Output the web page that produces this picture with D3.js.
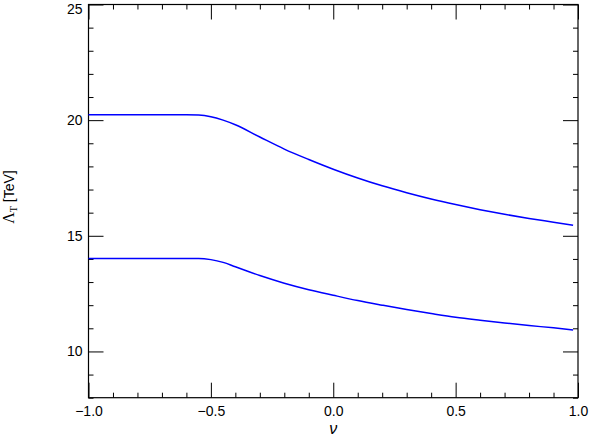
<!DOCTYPE html>
<html>
<head>
<meta charset="utf-8">
<script src="https://cdn.jsdelivr.net/npm/d3@7"></script>
<style>
  body { margin: 0; background: #fff; }
  text { font-family: "Liberation Sans", Helvetica, Arial, sans-serif; }
</style>
</head>
<body>
<div id="chart"></div>
<script>
const nu = [-1.0, -0.6, -0.55, -0.5, -0.45, -0.4, -0.3, -0.2, -0.1, 0.0, 0.1, 0.2, 0.3, 0.4, 0.5, 0.6, 0.7, 0.8, 0.9, 0.98];
const upperLambda = [20.23, 20.23, 20.22, 20.15, 20.0, 19.8, 19.27, 18.75, 18.3, 17.88, 17.5, 17.16, 16.86, 16.59, 16.35, 16.13, 15.93, 15.75, 15.59, 15.46];
const lowerLambda = [14.02, 14.02, 14.02, 13.97, 13.85, 13.66, 13.28, 12.95, 12.67, 12.43, 12.2, 12.0, 11.81, 11.64, 11.48, 11.35, 11.23, 11.12, 11.02, 10.93];

const xMajor = [-1.0, -0.5, 0.0, 0.5, 1.0];
const yMajor = [10, 15, 20, 25];

const width = 589, height = 436;
const margin = { top: 4.5, right: 11, bottom: 38.3, left: 88.5 };
const w = width - margin.left - margin.right;
const h = height - margin.top - margin.bottom;

const x = d3.scaleLinear().domain([-1, 1]).range([0, w]);
const y = d3.scaleLinear().domain([8, 25]).range([h, 0]);

const svg = d3.select('#chart').append('svg')
  .attr('width', width).attr('height', height);

const g = svg.append('g')
  .attr('transform', `translate(${margin.left},${margin.top})`);

// ticks on all four sides, pointing inward
const fmtX = d => d3.format('.1f')(d).replace('-', '\u2212');
const xMinor = d3.range(-10, 11).map(i => i / 10).filter(v => !xMajor.some(m => Math.abs(m - v) < 1e-9));
const yMinor = d3.range(8, 26).filter(v => !yMajor.includes(v));

function tickAxis(axisFn, scale, vals, size, fmt) {
  return axisFn(scale).tickValues(vals).tickSizeInner(size).tickSizeOuter(0).tickFormat(fmt);
}

const axes = [
  [g.append('g').attr('transform', `translate(0,${h})`), d3.axisTop, x, xMajor, xMinor, fmtX],
  [g.append('g'), d3.axisBottom, x, xMajor, xMinor, () => ''],
  [g.append('g'), d3.axisRight, y, yMajor, yMinor, () => ''],
  [g.append('g').attr('transform', `translate(${w},0)`), d3.axisLeft, y, yMajor, yMinor, () => '']
];
axes.forEach(([sel, fn, sc, maj, min, fmt]) => {
  sel.call(tickAxis(fn, sc, maj, 15, fmt));
  sel.append('g').call(tickAxis(fn, sc, min, 5, () => ''));
});
g.selectAll('.domain').remove();
g.selectAll('line').attr('stroke', '#000').attr('stroke-width', 1);

// x tick labels below the axis
axes[0][0].selectAll('.tick text')
  .attr('y', 18.5).attr('dy', 0)
  .attr('font-size', 14).attr('fill', '#000');

// y tick labels on the left (top one nudged so it stays inside the page)
const yLab = g.append('g');
yLab.selectAll('text').data(yMajor).enter().append('text')
  .attr('x', -6).attr('y', d => Math.max(y(d), 4)).attr('dy', '0.36em')
  .attr('text-anchor', 'end').attr('font-size', 14)
  .text(d => d);

// frame
g.append('rect').attr('width', w).attr('height', h)
  .attr('fill', 'none').attr('stroke', '#000').attr('stroke-width', 1.2);

// curves
const line = d3.line()
  .x(d => x(d[0])).y(d => y(d[1]))
  .curve(d3.curveMonotoneX);

[upperLambda, lowerLambda].forEach(series => {
  g.append('path')
    .datum(nu.map((v, i) => [v, series[i]]))
    .attr('fill', 'none').attr('stroke', '#0000ff').attr('stroke-width', 1.5)
    .attr('d', line);
});

// axis titles
svg.append('text')
  .attr('x', margin.left + x(0)).attr('y', 434)
  .attr('text-anchor', 'middle').attr('font-size', 16)
  .attr('font-style', 'italic').attr('font-family', '"Liberation Serif", serif')
  .text('\u03bd');

const yt = svg.append('text')
  .attr('transform', `translate(14,197) rotate(-90)`)
  .attr('text-anchor', 'middle').attr('font-size', 14);
yt.append('tspan').attr('font-family', '"Liberation Serif", serif').attr('font-size', 16).text('\u039b');
yt.append('tspan').attr('font-size', 10).attr('dy', 3).attr('font-family', '"Liberation Serif", serif').text('T');
yt.append('tspan').attr('dy', -3).text(' [TeV]');
</script>
</body>
</html>
